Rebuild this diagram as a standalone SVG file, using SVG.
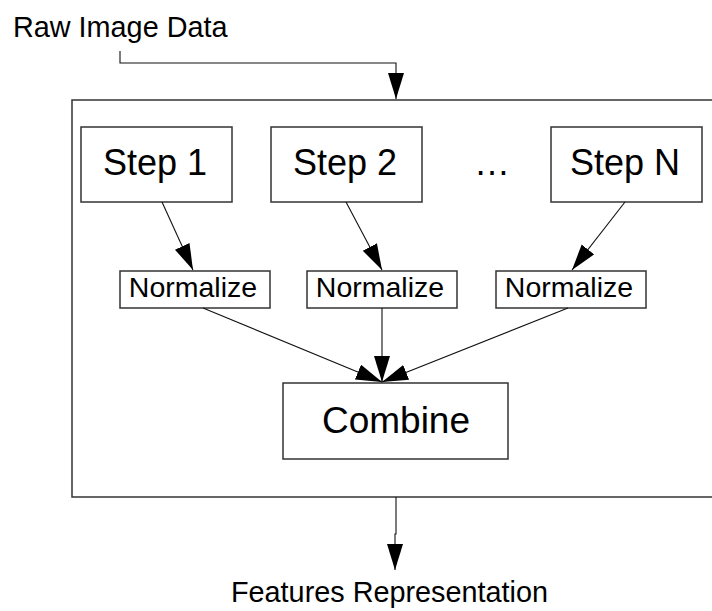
<svg xmlns="http://www.w3.org/2000/svg" width="712" height="611" viewBox="0 0 712 611">
<style>
  .box{fill:#fff;stroke:#333;stroke-width:1.5}
  .conn{fill:none;stroke:#111;stroke-width:1.1}
  text{font-family:"Liberation Sans",Arial,sans-serif;fill:#000}
  .lbl{font-size:28.8px}
  .step{font-size:36px;text-anchor:middle}
  .norm{font-size:28.5px;text-anchor:middle}
  .comb{font-size:37px;text-anchor:middle}
</style>
<defs>
  <marker id="ah" markerUnits="userSpaceOnUse" markerWidth="27" markerHeight="17" refX="26" refY="8" orient="auto" viewBox="0 0 27 17">
    <path d="M0,0 L26,8 L0,16 z" fill="#000"/>
  </marker>
</defs>
<rect width="712" height="611" fill="#fff"/>
<g id="container"><rect class="box" x="72" y="100" width="660" height="397"/></g>
<g id="raw"><text class="lbl" x="13" y="37">Raw Image Data</text></g>
<g id="features"><text class="lbl" x="231" y="602">Features Representation</text></g>
<g id="step1"><rect class="box" x="81" y="127" width="151" height="75"/><text class="step" x="155" y="175">Step 1</text></g>
<g id="step2"><rect class="box" x="271" y="127" width="151" height="75"/><text class="step" x="345" y="175">Step 2</text></g>
<g id="ellipsis"><text class="step" x="492" y="175">…</text></g>
<g id="stepN"><rect class="box" x="551" y="127" width="151" height="75"/><text class="step" x="625" y="175">Step N</text></g>
<g id="norm1"><rect class="box" x="120" y="271" width="150" height="37"/><text class="norm" x="193" y="297">Normalize</text></g>
<g id="norm2"><rect class="box" x="307" y="271" width="150" height="37"/><text class="norm" x="380" y="297">Normalize</text></g>
<g id="norm3"><rect class="box" x="496" y="271" width="150" height="37"/><text class="norm" x="569" y="297">Normalize</text></g>
<g id="combine"><rect class="box" x="283" y="383" width="225" height="76"/><text class="comb" x="396" y="433">Combine</text></g>
<g id="connectors">
  <path class="conn" d="M120,51 V63 H396 V99" marker-end="url(#ah)"/>
  <path class="conn" d="M162,202 L193,270" marker-end="url(#ah)"/>
  <path class="conn" d="M346,202 L382,270" marker-end="url(#ah)"/>
  <path class="conn" d="M625,202 L572,270" marker-end="url(#ah)"/>
  <path class="conn" d="M203,308 L382,382" marker-end="url(#ah)"/>
  <path class="conn" d="M382,308 L382,382" marker-end="url(#ah)"/>
  <path class="conn" d="M568,308 L382,382" marker-end="url(#ah)"/>
  <path class="conn" d="M396,497 V534 H395 V570" marker-end="url(#ah)"/>
</g>
</svg>
